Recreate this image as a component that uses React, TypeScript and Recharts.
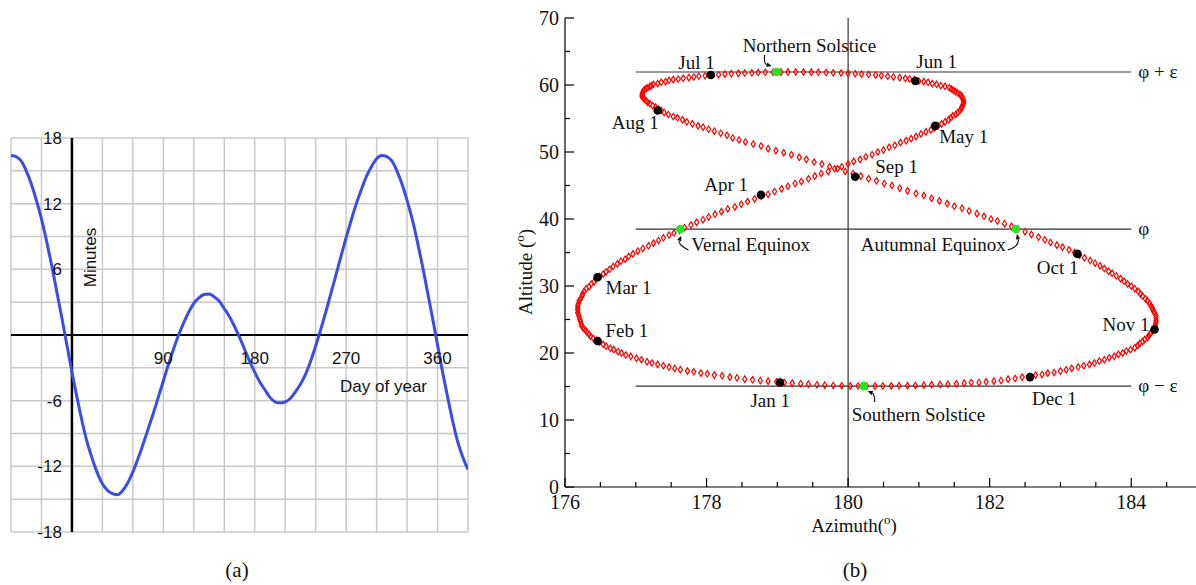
import {
  Line,
  LineChart,
  ReferenceDot,
  ReferenceLine,
  Scatter,
  ScatterChart,
  XAxis,
  YAxis,
} from 'recharts'

// (a) equation of time, minutes, every 5 days
const days = [
  -60, -55, -50, -45, -40, -35, -30, -25, -20, -15,
  -10, -5, 0, 5, 10, 15, 20, 25, 30, 35,
  40, 45, 50, 55, 60, 65, 70, 75, 80, 85,
  90, 95, 100, 105, 110, 115, 120, 125, 130, 135,
  140, 145, 150, 155, 160, 165, 170, 175, 180, 185,
  190, 195, 200, 205, 210, 215, 220, 225, 230, 235,
  240, 245, 250, 255, 260, 265, 270, 275, 280, 285,
  290, 295, 300, 305, 310, 315, 320, 325, 330, 335,
  340, 345, 350, 355, 360, 365, 370, 375, 380, 385,
  390,
]
const minutes = [
  16.4, 16.3, 15.9, 15.0, 13.8, 12.3, 10.6, 8.6, 6.4, 4.0,
  1.6, -0.9, -3.4, -5.7, -7.9, -9.8, -11.3, -12.6, -13.6, -14.2,
  -14.5, -14.6, -14.2, -13.5, -12.5, -11.3, -10.0, -8.6, -7.2, -5.7,
  -4.2, -2.7, -1.3, 0.0, 1.1, 2.1, 2.9, 3.4, 3.7, 3.75,
  3.5, 3.1, 2.4, 1.7, 0.8, -0.2, -1.3, -2.4, -3.4, -4.3,
  -5.0, -5.7, -6.1, -6.2, -6.1, -5.8, -5.2, -4.5, -3.6, -2.4,
  -1.0, 0.5, 2.1, 3.8, 5.5, 7.2, 8.9, 10.5, 12.0, 13.3,
  14.5, 15.4, 16.1, 16.4, 16.3, 15.9, 15.0, 13.8, 12.3, 10.6,
  8.6, 6.4, 4.0, 1.6, -0.9, -3.4, -5.7, -7.9, -9.8, -11.2,
  -12.3,
]
const dayGrid = [-60, -30, 0, 30, 60, 90, 120, 150, 180, 210, 240, 270, 300, 330, 360, 390]
const minuteGrid = [-18, -15, -12, -9, -6, -3, 0, 3, 6, 9, 12, 15, 18]
const dayLabels = [90, 180, 270, 360]
const minuteLabels = [18, 12, 6, -6, -12, -18]

// (b) analemma, one point per day from Jan 1
const azimuth = [
  179.21, 179.10, 178.99, 178.87, 178.76, 178.65, 178.54, 178.43, 178.33, 178.22,
  178.11, 178.01, 177.92, 177.82, 177.73, 177.63, 177.55, 177.47, 177.39, 177.31,
  177.23, 177.16, 177.08, 177.01, 176.93, 176.86, 176.80, 176.75, 176.69, 176.64,
  176.58, 176.54, 176.49, 176.45, 176.40, 176.36, 176.34, 176.31, 176.29, 176.26,
  176.24, 176.23, 176.22, 176.21, 176.20, 176.19, 176.18, 176.18, 176.18, 176.18,
  176.19, 176.20, 176.22, 176.24, 176.25, 176.27, 176.30, 176.34, 176.37, 176.41,
  176.44, 176.49, 176.54, 176.58, 176.63, 176.68, 176.74, 176.79, 176.85, 176.90,
  176.96, 177.03, 177.10, 177.18, 177.25, 177.32, 177.39, 177.47, 177.54, 177.62,
  177.69, 177.78, 177.86, 177.95, 178.03, 178.12, 178.21, 178.30, 178.40, 178.49,
  178.58, 178.68, 178.77, 178.87, 178.96, 179.06, 179.15, 179.25, 179.34, 179.44,
  179.53, 179.62, 179.72, 179.81, 179.91, 180.00, 180.08, 180.17, 180.25, 180.34,
  180.42, 180.50, 180.58, 180.66, 180.74, 180.82, 180.89, 180.96, 181.03, 181.10,
  181.17, 181.22, 181.27, 181.32, 181.37, 181.42, 181.45, 181.48, 181.52, 181.55,
  181.58, 181.60, 181.61, 181.62, 181.63, 181.63, 181.63, 181.62, 181.61, 181.60,
  181.58, 181.55, 181.52, 181.49, 181.46, 181.43, 181.37, 181.31, 181.25, 181.19,
  181.13, 181.07, 181.00, 180.94, 180.87, 180.81, 180.73, 180.64, 180.56, 180.47,
  180.39, 180.29, 180.19, 180.10, 180.00, 179.90, 179.79, 179.69, 179.58, 179.48,
  179.37, 179.26, 179.15, 179.05, 178.94, 178.83, 178.73, 178.64, 178.54, 178.45,
  178.35, 178.26, 178.17, 178.07, 177.98, 177.89, 177.82, 177.75, 177.67, 177.60,
  177.53, 177.47, 177.42, 177.36, 177.31, 177.25, 177.22, 177.20, 177.17, 177.15,
  177.12, 177.11, 177.10, 177.09, 177.09, 177.09, 177.10, 177.12, 177.15, 177.17,
  177.20, 177.24, 177.28, 177.32, 177.36, 177.40, 177.46, 177.53, 177.59, 177.66,
  177.72, 177.80, 177.88, 177.95, 178.03, 178.11, 178.20, 178.29, 178.37, 178.46,
  178.55, 178.66, 178.77, 178.87, 178.98, 179.09, 179.20, 179.31, 179.41, 179.52,
  179.63, 179.74, 179.85, 179.96, 180.07, 180.18, 180.29, 180.40, 180.51, 180.62,
  180.73, 180.84, 180.96, 181.07, 181.18, 181.29, 181.40, 181.50, 181.61, 181.71,
  181.82, 181.92, 182.02, 182.11, 182.21, 182.31, 182.40, 182.50, 182.59, 182.69,
  182.78, 182.86, 182.95, 183.03, 183.12, 183.20, 183.27, 183.34, 183.42, 183.49,
  183.56, 183.62, 183.68, 183.73, 183.79, 183.85, 183.90, 183.95, 184.00, 184.05,
  184.10, 184.13, 184.16, 184.20, 184.23, 184.26, 184.28, 184.30, 184.31, 184.33,
  184.35, 184.35, 184.35, 184.35, 184.34, 184.34, 184.32, 184.30, 184.27, 184.25,
  184.23, 184.19, 184.16, 184.12, 184.09, 184.05, 183.99, 183.93, 183.88, 183.82,
  183.76, 183.69, 183.62, 183.55, 183.48, 183.41, 183.33, 183.25, 183.16, 183.08,
  183.00, 182.91, 182.82, 182.74, 182.65, 182.56, 182.46, 182.36, 182.26, 182.16,
  182.06, 181.95, 181.85, 181.74, 181.64, 181.53, 181.41, 181.30, 181.18, 181.07,
  180.95, 180.84, 180.72, 180.61, 180.49, 180.38, 180.26, 180.14, 180.03, 179.91,
  179.79, 179.67, 179.56, 179.44, 179.33,
]
const altitude = [
  15.5, 15.6, 15.7, 15.8, 15.9, 16.0, 16.1, 16.3, 16.4, 16.6,
  16.7, 16.9, 17.0, 17.2, 17.3, 17.5, 17.7, 17.9, 18.1, 18.3,
  18.5, 18.7, 19.0, 19.2, 19.5, 19.7, 20.0, 20.2, 20.5, 20.7,
  21.0, 21.3, 21.6, 21.9, 22.2, 22.5, 22.8, 23.1, 23.4, 23.7,
  24.0, 24.3, 24.7, 25.0, 25.4, 25.7, 26.0, 26.4, 26.7, 27.1,
  27.4, 27.8, 28.1, 28.5, 28.8, 29.2, 29.6, 29.9, 30.3, 30.6,
  31.0, 31.4, 31.8, 32.1, 32.5, 32.9, 33.3, 33.7, 34.0, 34.4,
  34.8, 35.2, 35.6, 36.0, 36.4, 36.8, 37.2, 37.6, 37.9, 38.3,
  38.7, 39.1, 39.5, 39.9, 40.3, 40.7, 41.1, 41.5, 41.8, 42.2,
  42.6, 43.0, 43.4, 43.7, 44.1, 44.5, 44.9, 45.3, 45.6, 46.0,
  46.4, 46.8, 47.1, 47.5, 47.8, 48.2, 48.6, 48.9, 49.3, 49.6,
  50.0, 50.3, 50.7, 51.0, 51.4, 51.7, 52.0, 52.3, 52.7, 53.0,
  53.3, 53.6, 53.9, 54.2, 54.5, 54.8, 55.1, 55.4, 55.6, 55.9,
  56.2, 56.5, 56.7, 57.0, 57.2, 57.5, 57.7, 57.9, 58.2, 58.4,
  58.6, 58.8, 59.0, 59.2, 59.4, 59.6, 59.8, 59.9, 60.1, 60.2,
  60.4, 60.5, 60.6, 60.8, 60.9, 61.0, 61.1, 61.2, 61.3, 61.4,
  61.5, 61.56, 61.62, 61.68, 61.74, 61.8, 61.84, 61.87, 61.9, 61.92,
  61.94, 61.94, 61.93, 61.92, 61.91, 61.9, 61.86, 61.82, 61.78, 61.74,
  61.7, 61.62, 61.54, 61.46, 61.38, 61.3, 61.2, 61.1, 61.0, 60.9,
  60.8, 60.7, 60.5, 60.4, 60.2, 60.1, 59.9, 59.8, 59.6, 59.5,
  59.3, 59.1, 58.9, 58.7, 58.5, 58.3, 58.1, 57.9, 57.6, 57.4,
  57.2, 56.9, 56.7, 56.4, 56.2, 55.9, 55.6, 55.3, 55.1, 54.8,
  54.5, 54.2, 53.9, 53.7, 53.4, 53.1, 52.8, 52.5, 52.1, 51.8,
  51.5, 51.2, 50.9, 50.5, 50.2, 49.9, 49.6, 49.2, 48.9, 48.5,
  48.2, 47.8, 47.5, 47.1, 46.8, 46.4, 46.0, 45.7, 45.3, 45.0,
  44.6, 44.2, 43.8, 43.5, 43.1, 42.7, 42.3, 41.9, 41.6, 41.2,
  40.8, 40.4, 40.0, 39.7, 39.3, 38.9, 38.5, 38.1, 37.7, 37.3,
  36.9, 36.5, 36.1, 35.8, 35.4, 35.0, 34.6, 34.2, 33.8, 33.4,
  33.0, 32.6, 32.2, 31.9, 31.5, 31.1, 30.7, 30.3, 30.0, 29.6,
  29.2, 28.8, 28.5, 28.1, 27.8, 27.4, 27.0, 26.7, 26.3, 26.0,
  25.6, 25.3, 24.9, 24.6, 24.2, 23.9, 23.6, 23.3, 22.9, 22.6,
  22.3, 22.0, 21.7, 21.4, 21.1, 20.8, 20.5, 20.3, 20.0, 19.8,
  19.5, 19.3, 19.0, 18.8, 18.5, 18.3, 18.1, 17.9, 17.7, 17.5,
  17.3, 17.1, 17.0, 16.8, 16.7, 16.5, 16.4, 16.2, 16.1, 15.9,
  15.8, 15.7, 15.6, 15.6, 15.5, 15.4, 15.35, 15.3, 15.25, 15.2,
  15.15, 15.13, 15.11, 15.09, 15.07, 15.06, 15.06, 15.07, 15.09, 15.12,
  15.15, 15.2, 15.27, 15.35, 15.42,
]
const monthNames = ['Jan 1', 'Feb 1', 'Mar 1', 'Apr 1', 'May 1', 'Jun 1', 'Jul 1', 'Aug 1', 'Sep 1', 'Oct 1', 'Nov 1', 'Dec 1']
const monthAz = [179.04, 176.46, 176.46, 178.77, 181.23, 180.95, 178.06, 177.31, 180.10, 183.24, 184.33, 182.57]
const monthAlt = [15.6, 21.8, 31.3, 43.6, 53.9, 60.6, 61.5, 56.2, 46.3, 34.8, 23.5, 16.4]
const eventNames = ['Northern Solstice', 'Vernal Equinox', 'Autumnal Equinox', 'Southern Solstice']
const eventAz = [178.99, 177.63, 182.37, 180.22]
const eventAlt = [61.94, 38.5, 38.5, 15.06]
const PHI = 38.5
const EPS = 23.44
const lineFrom = 177
const lineTo = 184
const azTicks = [176, 176.5, 177, 177.5, 178, 178.5, 179, 179.5, 180, 180.5, 181, 181.5, 182, 182.5, 183, 183.5, 184, 184.5, 185]
const altTicks = [0, 5, 10, 15, 20, 25, 30, 35, 40, 45, 50, 55, 60, 65, 70]
const rightTicks = [20, 40, 60]

const eotData = days.map((day, i) => ({ day, eot: minutes[i] }))
const sunData = azimuth.map((az, i) => ({ az, alt: altitude[i] }))
const monthData = monthNames.map((name, i) => ({ name, az: monthAz[i], alt: monthAlt[i] }))
const eventData = eventNames.map((name, i) => ({ name, az: eventAz[i], alt: eventAlt[i] }))

const sans = '"Liberation Sans", Arial, sans-serif'
const serif = '"Liberation Serif", "Times New Roman", serif'

// label offsets (px) from each marker
const labelAt: Record<string, [number, number, 'start' | 'middle' | 'end']> = {
  'Jan 1': [-10, 25, 'middle'],
  'Feb 1': [8, -4, 'start'],
  'Mar 1': [8, 17, 'start'],
  'Apr 1': [-13, -4, 'end'],
  'May 1': [4, 17, 'start'],
  'Jun 1': [1, -13, 'start'],
  'Jul 1': [4, -6, 'end'],
  'Aug 1': [1, 19, 'end'],
  'Sep 1': [20, -4, 'start'],
  'Oct 1': [1, 20, 'end'],
  'Nov 1': [-5, 1, 'end'],
  'Dec 1': [2, 28, 'start'],
  'Northern Solstice': [-34, -20, 'start'],
  'Vernal Equinox': [11, 22, 'start'],
  'Autumnal Equinox': [-10, 22, 'end'],
  'Southern Solstice': [-12, 35, 'start'],
}
// curved arrows: start, control, end
const arrowAt: Record<string, number[]> = {
  'Northern Solstice': [-12, -17, -13, -8, -5, -6],
  'Vernal Equinox': [8, 21, -3, 15, 1, 7],
  'Autumnal Equinox': [-8, 21, 4, 17, 1, 5],
  'Southern Solstice': [11, 16, 11, 8, 4, 5],
}

function textAt(content: any, dx: number, dy: number, anchor: string, font: string, size: number, rotate = false) {
  return (props: any) => {
    const vb = props.viewBox
    const x = vb.x + vb.width / 2 + dx
    const y = vb.y + vb.height / 2 + dy
    return (
      <text
        x={x}
        y={y}
        textAnchor={anchor}
        fontFamily={font}
        fontSize={size}
        fill="#111"
        transform={rotate ? `rotate(-90 ${x} ${y})` : undefined}
      >
        {content}
      </text>
    )
  }
}

function BottomTick({ x, y, payload }: any) {
  const major = payload.value % 2 === 0
  return (
    <g>
      <line x1={x} x2={x} y1={y} y2={y - (major ? 9 : 5)} stroke="#000" strokeWidth={1.2} />
      {major && (
        <text x={x} y={y + 22} textAnchor="middle" fontSize={20} fontFamily={serif} fill="#111">
          {payload.value}
        </text>
      )}
    </g>
  )
}

function TopTick({ x, y, payload }: any) {
  const major = payload.value % 2 === 0
  return <line x1={x} x2={x} y1={y} y2={y + (major ? 9 : 5)} stroke="#000" strokeWidth={1.2} />
}

function LeftTick({ x, y, payload }: any) {
  const major = payload.value % 10 === 0
  return (
    <g>
      <line x1={x} x2={x + (major ? 9 : 5)} y1={y} y2={y} stroke="#000" strokeWidth={1.2} />
      {major && (
        <text x={x - 6} y={y + 7} textAnchor="end" fontSize={20} fontFamily={serif} fill="#111">
          {payload.value}
        </text>
      )}
    </g>
  )
}

function RightTick({ x, y }: any) {
  return <line x1={x} x2={x - 9} y1={y} y2={y} stroke="#000" strokeWidth={1.2} />
}

function Diamond({ cx, cy }: any) {
  return (
    <path
      d={`M${cx},${cy - 3.2}L${cx + 2.1},${cy}L${cx},${cy + 3.2}L${cx - 2.1},${cy}Z`}
      fill="none"
      stroke="#f00"
      strokeWidth={1.2}
    />
  )
}

function markerShape(color: string) {
  return ({ cx, cy, payload }: any) => {
    const [dx, dy, anchor] = labelAt[payload.name]
    const a = arrowAt[payload.name]
    let arrow = null
    if (a) {
      const [sx, sy, qx, qy, ex, ey] = a
      const len = Math.hypot(ex - qx, ey - qy)
      const ux = (ex - qx) / len
      const uy = (ey - qy) / len
      const bx = cx + ex - ux * 5
      const by = cy + ey - uy * 5
      arrow = (
        <g>
          <path
            d={`M${cx + sx},${cy + sy}Q${cx + qx},${cy + qy} ${bx},${by}`}
            fill="none"
            stroke="#111"
            strokeWidth={1.2}
          />
          <polygon
            points={`${cx + ex},${cy + ey} ${bx - uy * 2.3},${by + ux * 2.3} ${bx + uy * 2.3},${by - ux * 2.3}`}
            fill="#111"
          />
        </g>
      )
    }
    return (
      <g>
        {arrow}
        <text x={cx + dx} y={cy + dy} textAnchor={anchor} fontSize={19} fontFamily={serif} fill="#111">
          {payload.name}
        </text>
        <circle cx={cx} cy={cy} r={4.3} fill={color} />
      </g>
    )
  }
}

function EquationOfTime() {
  return (
    <LineChart width={480} height={560} data={eotData} margin={{ top: 138, right: 12, bottom: 28, left: 11 }}>
      <XAxis
        dataKey="day"
        type="number"
        domain={[-60, 390]}
        ticks={dayGrid}
        allowDataOverflow
        height={0}
        tick={false}
        tickLine={false}
        axisLine={false}
      />
      <YAxis
        type="number"
        domain={[-18, 18]}
        ticks={minuteGrid}
        allowDataOverflow
        width={0}
        tick={false}
        tickLine={false}
        axisLine={false}
      />
      {dayGrid.map((v) => (
        <ReferenceLine key={`gx${v}`} x={v} stroke="#c8c8c8" strokeWidth={1.5} />
      ))}
      {minuteGrid.map((v) => (
        <ReferenceLine key={`gy${v}`} y={v} stroke="#c8c8c8" strokeWidth={1.5} />
      ))}
      <ReferenceLine y={0} stroke="#000" strokeWidth={2} />
      <ReferenceLine x={0} stroke="#000" strokeWidth={2.5} />
      {dayLabels.map((v) => (
        <ReferenceDot key={`d${v}`} x={v} y={0} r={0} fill="none" stroke="none"
          label={textAt(v, 0, 29, 'middle', sans, 17)} />
      ))}
      {minuteLabels.map((v) => (
        <ReferenceDot key={`m${v}`} x={0} y={v} r={0} fill="none" stroke="none"
          label={textAt(v, -10, 6, 'end', sans, 17)} />
      ))}
      <ReferenceDot x={0} y={0} r={0} fill="none" stroke="none"
        label={textAt('Minutes', 24.5, -77.5, 'middle', sans, 17, true)} />
      <ReferenceDot x={360} y={0} r={0} fill="none" stroke="none"
        label={textAt('Day of year', -10.5, 56.5, 'end', sans, 17)} />
      <Line type="monotone" dataKey="eot" stroke="#3a4ee6" strokeWidth={3} dot={false} isAnimationActive={false} />
    </LineChart>
  )
}

function Analemma() {
  const degree = (label: string) => (
    <>
      <tspan>{label}</tspan>
      <tspan fontSize={13} dy={-8}>o</tspan>
      <tspan dy={8}>)</tspan>
    </>
  )
  return (
    <ScatterChart width={720} height={585} margin={{ top: 18, right: 18, bottom: 0, left: 0 }}>
      <XAxis
        dataKey="az"
        type="number"
        domain={[176, 185]}
        ticks={azTicks}
        interval={0}
        allowDataOverflow
        height={98}
        tickSize={0}
        tickMargin={0}
        tickLine={false}
        tick={BottomTick}
        axisLine={{ stroke: '#000', strokeWidth: 1.2 }}
      />
      <XAxis
        xAxisId="top"
        orientation="top"
        type="number"
        domain={[176, 185]}
        ticks={azTicks}
        interval={0}
        allowDataOverflow
        height={0}
        tickSize={0}
        tickMargin={0}
        tickLine={false}
        tick={TopTick}
        axisLine={{ stroke: '#000', strokeWidth: 1.2 }}
      />
      <YAxis
        dataKey="alt"
        type="number"
        domain={[0, 70]}
        ticks={altTicks}
        interval={0}
        allowDataOverflow
        width={65}
        tickSize={0}
        tickMargin={0}
        tickLine={false}
        tick={LeftTick}
        axisLine={{ stroke: '#000', strokeWidth: 1.2 }}
      />
      <YAxis
        yAxisId="right"
        orientation="right"
        type="number"
        domain={[0, 70]}
        ticks={rightTicks}
        interval={0}
        allowDataOverflow
        width={0}
        tickSize={0}
        tickMargin={0}
        tickLine={false}
        tick={RightTick}
        axisLine={{ stroke: '#000', strokeWidth: 1.2 }}
      />
      <ReferenceLine x={180} stroke="#333" strokeWidth={1.2} />
      <ReferenceLine segment={[{ x: lineFrom, y: PHI + EPS }, { x: lineTo, y: PHI + EPS }]} stroke="#333" strokeWidth={1.2} />
      <ReferenceLine segment={[{ x: lineFrom, y: PHI }, { x: lineTo, y: PHI }]} stroke="#333" strokeWidth={1.2} />
      <ReferenceLine segment={[{ x: lineFrom, y: PHI - EPS }, { x: lineTo, y: PHI - EPS }]} stroke="#333" strokeWidth={1.2} />
      <ReferenceDot x={lineTo} y={PHI + EPS} r={0} fill="none" stroke="none"
        label={textAt('φ + ε', 7, 6, 'start', serif, 19)} />
      <ReferenceDot x={lineTo} y={PHI} r={0} fill="none" stroke="none"
        label={textAt('φ', 7, 6, 'start', serif, 19)} />
      <ReferenceDot x={lineTo} y={PHI - EPS} r={0} fill="none" stroke="none"
        label={textAt('φ − ε', 7, 6, 'start', serif, 19)} />
      <ReferenceDot x={180} y={0} r={0} fill="none" stroke="none"
        label={textAt(degree('Azimuth('), 6, 45, 'middle', serif, 19)} />
      <ReferenceDot x={176} y={35} r={0} fill="none" stroke="none"
        label={textAt(degree('Altitude ('), -33, 19.5, 'middle', serif, 19, true)} />
      <Scatter data={sunData} shape={Diamond} isAnimationActive={false} />
      <Scatter data={monthData} shape={markerShape('#000')} isAnimationActive={false} />
      <Scatter data={eventData} shape={markerShape('#22e622')} isAnimationActive={false} />
    </ScatterChart>
  )
}

export default function App() {
  return (
    <div style={{ position: 'fixed', left: 0, top: 0, width: 1196, height: 585, overflow: 'hidden', background: '#fff' }}>
      <div style={{ position: 'absolute', left: 0, top: 0 }}>
        <EquationOfTime />
      </div>
      <div style={{ position: 'absolute', left: 500, top: 0 }}>
        <Analemma />
      </div>
      <svg width={1196} height={585} style={{ position: 'absolute', left: 0, top: 0, pointerEvents: 'none' }}>
        <text x={237} y={577} textAnchor="middle" fontSize={21} fontFamily={serif} fill="#111">(a)</text>
        <text x={855} y={577} textAnchor="middle" fontSize={21} fontFamily={serif} fill="#111">(b)</text>
      </svg>
    </div>
  )
}
